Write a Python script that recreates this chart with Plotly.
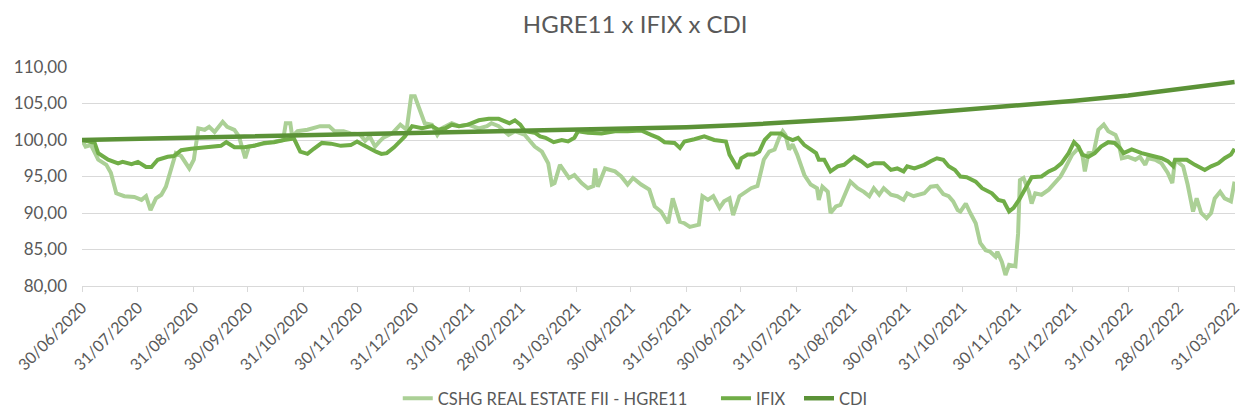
import pandas as pd
import plotly.graph_objects as go

# ---------------- data ----------------
start_date = "2020-06-30"

# CSHG REAL ESTATE FII - HGRE11 (base 100) : days since 30/06/2020, value
hgre_days = [0, 2, 5, 9, 13.5, 16, 19, 23.5, 29, 33, 35.5, 38, 41, 44, 46.5, 49.5, 52, 55, 59.5, 62,
             64.5, 68, 70.5, 73.5, 78, 80.5, 84.5, 87, 90.5, 92.5, 96.5, 101, 106.5, 111.5, 113, 115.5,
             116.5, 119.5, 125, 132, 137, 140, 145, 149, 154, 157, 159.5, 162.5, 165, 167, 172, 176.5,
             180, 182.5, 184.5, 187.5, 190, 194, 197, 199.5, 205, 209, 214, 220, 224.5, 227, 231, 236.5,
             240, 245.5, 251, 255, 258.5, 260.5, 262, 265, 268, 270, 273, 277, 280.5, 283.5, 284.5, 286,
             290, 295.5, 299, 302.5, 305.5, 310, 314.5, 317.5, 321, 323, 325, 327.5, 329.5, 331.5, 334,
             337, 342, 344, 347, 350, 353.5, 356, 359, 361, 364.5, 367, 371, 374.5, 378, 381, 384, 386.5,
             388.5, 390, 392, 394, 396.5, 400.5, 404, 407.5, 408.5, 410.5, 413.5, 415, 418, 420.5, 423.5,
             426, 430, 433.5, 436.5, 439, 442, 444.5, 448.5, 452, 455.5, 457.5, 461, 467, 470.5, 474,
             477.5, 480.5, 483, 485.5, 487, 490, 492.5, 495.5, 498, 501, 503.5, 506.5, 507.5, 510, 512,
             514, 517.5, 519, 520, 522, 525, 526.5, 528.5, 532, 536, 539.5, 542.5, 545, 549, 552.5, 554.5,
             556, 558, 561, 563.5, 566.5, 569, 573, 574.5, 576.5, 580, 584, 586.5, 589.5, 591, 595, 598.5,
             602, 604.5, 606, 610.5, 613, 615, 616, 618, 620.5, 623.5, 626, 628, 631, 633.5, 637, 639]
hgre_vals = [100.0, 99.1, 99.3, 97.3, 96.6, 95.5, 92.7, 92.3, 92.2, 91.8, 92.3, 90.4, 92.0, 92.5, 93.6, 96.4,
             98.2, 97.8, 96.1, 97.3, 101.6, 101.4, 101.8, 101.1, 102.5, 101.8, 101.4, 100.5, 97.5, 99.1,
             99.3, 99.6, 99.8, 100.0, 102.3, 102.3, 100.5, 101.2, 101.4, 101.9, 101.9, 101.2, 101.2, 100.9,
             100.8, 99.9, 100.5, 99.1, 99.8, 100.3, 100.9, 102.1, 101.4, 106.0, 106.0, 104.1, 102.3, 102.1,
             100.7, 101.6, 102.3, 101.9, 102.1, 101.6, 101.9, 102.3, 101.9, 100.7, 101.2, 100.7, 99.1, 98.4,
             96.8, 93.9, 94.1, 96.6, 95.5, 94.8, 95.2, 94.1, 93.4, 93.7, 96.1, 93.6, 96.1, 95.7, 95.0, 93.9,
             94.8, 93.9, 93.2, 90.9, 90.2, 89.5, 88.6, 92.0, 90.2, 88.8, 88.6, 88.1, 88.4, 92.3, 91.8, 92.3,
             90.7, 91.6, 92.0, 89.7, 92.3, 92.7, 93.4, 93.7, 97.3, 98.4, 98.7, 100.3, 101.2, 100.7, 98.7,
             99.4, 98.0, 95.2, 93.9, 93.4, 91.8, 93.6, 92.9, 90.0, 90.9, 91.1, 92.7, 94.3, 93.4, 92.9, 92.3,
             93.4, 92.5, 93.4, 92.5, 92.3, 91.8, 92.7, 92.3, 92.7, 93.6, 93.7, 92.6, 92.3, 91.6, 90.4, 90.2,
             91.3, 90.0, 88.6, 85.9, 84.9, 84.7, 84.0, 84.7, 83.3, 81.5, 82.9, 82.7, 87.2, 94.5, 94.8, 92.9,
             91.3, 92.7, 92.5, 93.2, 94.1, 95.0, 96.1, 98.0, 98.9, 98.2, 95.7, 98.2, 98.4, 101.4, 102.1,
             101.2, 100.7, 99.8, 97.5, 97.7, 97.3, 97.7, 96.6, 97.5, 97.3, 96.8, 95.5, 94.1, 97.3, 96.4,
             93.9, 91.3, 90.2, 92.0, 90.0, 89.3, 90.0, 92.0, 92.9, 92.0, 91.6, 94.3]

# IFIX (base 100)
ifix_days = [0, 7, 9, 14.5, 20, 22.5, 27.5, 31, 35.5, 38.5, 42, 47.5, 51, 55, 60.5, 66, 71.5, 77, 80, 84.5,
             90, 95.5, 101, 106.5, 112, 117.5, 121, 125, 128.5, 133, 138, 143.5, 149, 152.5, 156, 159.5,
             163, 166, 169, 173, 176.5, 179, 183, 188.5, 194, 197.5, 201.5, 205, 209, 214, 220, 225.5, 231,
             234.5, 237, 240, 243, 245.5, 251, 254, 257, 261.5, 266, 269.5, 273, 275, 280.5, 288, 295.5,
             302.5, 310, 315.5, 319.5, 323, 328.5, 331.5, 334, 339.5, 345, 350.5, 357, 359, 361.5, 363.5,
             365.5, 369, 372.5, 375.5, 378.5, 382, 387.5, 391, 394, 397, 400.5, 404, 407, 408.5, 411.5,
             415, 419, 422.5, 426, 428, 432, 435.5, 439, 444.5, 448.5, 452, 455.5, 457.5, 461.5, 467, 470.5,
             474, 477.5, 480.5, 484, 487, 490.5, 495.5, 499, 504.5, 508, 511, 514, 516.5, 519.5, 523, 526.5,
             532, 536, 539.5, 543, 547, 550, 552.5, 554.5, 558, 561.5, 565, 569, 572.5, 575.5, 577.5, 582,
             587.5, 593, 598.5, 602, 605, 606, 612.5, 617, 622.5, 626, 630, 633.5, 637, 639]
ifix_vals = [100.0, 99.6, 98.2, 97.3, 96.8, 97.0, 96.7, 97.0, 96.3, 96.3, 97.3, 97.7, 97.8, 98.6, 98.8, 98.9,
             99.0, 99.2, 99.7, 99.0, 99.0, 99.2, 99.6, 99.7, 100.0, 100.2, 98.4, 98.1, 98.8, 99.6, 99.5,
             99.2, 99.3, 99.8, 99.3, 98.8, 98.4, 98.1, 98.2, 99.0, 99.8, 100.5, 101.9, 101.6, 101.9, 101.4,
             101.6, 102.1, 101.9, 102.1, 102.7, 102.9, 102.9, 102.5, 102.3, 102.7, 102.1, 101.2, 101.0,
             100.5, 100.3, 99.7, 100.0, 99.8, 100.3, 101.2, 101.0, 100.9, 101.2, 101.2, 101.3, 100.7, 100.3,
             99.7, 99.6, 98.9, 99.8, 100.1, 100.5, 100.0, 99.8, 98.0, 96.8, 96.1, 97.5, 98.0, 98.0, 98.4,
             100.0, 100.9, 100.9, 100.3, 100.0, 100.3, 99.3, 98.7, 98.2, 97.3, 97.3, 95.7, 96.4, 96.6, 97.3,
             97.7, 97.1, 96.4, 96.8, 96.8, 95.9, 96.1, 95.7, 96.4, 96.1, 96.6, 97.1, 97.5, 97.3, 96.4, 95.9,
             95.0, 94.9, 94.3, 93.4, 92.7, 91.8, 91.6, 90.2, 90.7, 91.8, 93.4, 94.9, 95.0, 95.7, 96.1, 96.8,
             98.2, 99.7, 99.1, 98.0, 97.7, 98.2, 99.1, 99.7, 99.6, 98.9, 98.2, 98.7, 98.2, 97.8, 97.5, 97.1,
             96.4, 97.3, 97.3, 96.6, 95.9, 96.4, 96.8, 97.5, 98.0, 98.8]

# CDI (base 100), month-end readings
cdi_days = [0, 31, 62, 92, 123, 153, 184, 215, 243, 274, 304, 335, 365, 396, 427, 457, 488, 518, 549,
            580, 608, 639]
cdi_vals = [100.0, 100.15, 100.3, 100.45, 100.6, 100.75, 100.9, 101.05, 101.2, 101.35, 101.55, 101.75,
            102.05, 102.45, 102.95, 103.5, 104.1, 104.65, 105.35, 106.1, 106.95, 107.95]

# x-axis tick labels (month ends)
tick_labels = ["30/06/2020", "31/07/2020", "31/08/2020", "30/09/2020", "31/10/2020", "30/11/2020",
               "31/12/2020", "31/01/2021", "28/02/2021", "31/03/2021", "30/04/2021", "31/05/2021",
               "30/06/2021", "31/07/2021", "31/08/2021", "30/09/2021", "31/10/2021", "30/11/2021",
               "31/12/2021", "31/01/2022", "28/02/2022", "31/03/2022"]

series_names = ["CSHG REAL ESTATE FII - HGRE11", "IFIX", "CDI"]
# -----------------------------------------------------------------

base = pd.Timestamp(start_date)


def to_dates(days):
    return [base + pd.Timedelta(hours=d * 24) for d in days]


tick_vals = [pd.to_datetime(t, format="%d/%m/%Y") for t in tick_labels]

TXT = "#595959"
GRID = "#D9D9D9"
FONT = "Lato"

colors = ["#ABD096", "#70AD47", "#5B9237"]
fig = go.Figure()
fig.add_trace(go.Scatter(x=to_dates(hgre_days), y=hgre_vals, mode="lines", name=series_names[0],
                         line=dict(color=colors[0], width=4), legend="legend"))
fig.add_trace(go.Scatter(x=to_dates(ifix_days), y=ifix_vals, mode="lines", name=series_names[1],
                         line=dict(color=colors[1], width=4), legend="legend2"))
fig.add_trace(go.Scatter(x=to_dates(cdi_days), y=cdi_vals, mode="lines", name=series_names[2],
                         line=dict(color=colors[2], width=4.5), legend="legend3"))

leg_common = dict(orientation="h", yref="container", y=0.0, yanchor="bottom",
                  xref="container", xanchor="left",
                  font=dict(family=FONT, size=16.5, color=TXT), bgcolor="rgba(0,0,0,0)",
                  itemwidth=30)
fig.update_layout(
    width=1243, height=416, autosize=False,
    margin=dict(l=82, r=8, t=67, b=130, autoexpand=False),
    paper_bgcolor="white", plot_bgcolor="white",
    separators=",.",
    font=dict(family=FONT, color=TXT),
    title=dict(text="HGRE11 x IFIX x CDI", x=0.511, xref="container", xanchor="center",
               y=0.94, yref="container", yanchor="middle",
               font=dict(family=FONT, size=24, color=TXT)),
    legend=dict(leg_common, x=0.320),
    legend2=dict(leg_common, x=0.576),
    legend3=dict(leg_common, x=0.6428),
    showlegend=True,
)
fig.update_xaxes(
    type="date",
    range=[base, tick_vals[-1] + pd.Timedelta(hours=6)],
    tickmode="array", tickvals=tick_vals, ticktext=tick_labels,
    tickangle=-45, tickfont=dict(family=FONT, size=16, color=TXT),
    ticklabeloverflow="allow",
    showgrid=False, showline=True, linecolor=GRID, linewidth=1,
    ticks="outside", ticklen=5, tickcolor=GRID, tickwidth=1,
    zeroline=False, automargin=False,
)
fig.update_yaxes(
    range=[80, 110], dtick=5, tick0=80, tickformat=".2f",
    tickfont=dict(family=FONT, size=17, color=TXT),
    showgrid=True, gridcolor=GRID, gridwidth=1,
    zeroline=False, showline=False, ticks="", ticklabelstandoff=14,
    automargin=False,
)

fig.write_html("out.html", config={"displayModeBar": False},
               post_script="document.body.style.margin='0';")
